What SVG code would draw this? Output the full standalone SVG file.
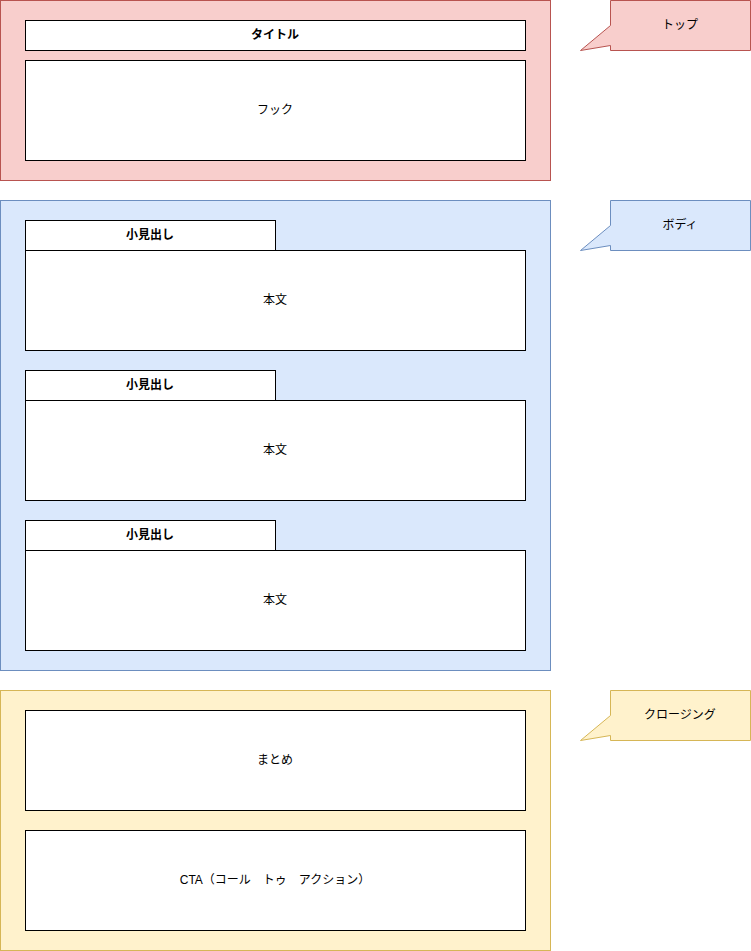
<svg xmlns="http://www.w3.org/2000/svg" width="751" height="951" viewBox="0 0 751 951">
<style>
text{font-family:"Liberation Sans","Noto Sans CJK JP",sans-serif;font-size:12px;fill:#000;text-anchor:middle;dominant-baseline:central}
.b{font-weight:bold}
.w{fill:#fff;stroke:#000;stroke-width:1}
</style>
<rect width="751" height="951" fill="#fff"/>
<g id="top"><rect x="0.5" y="0.5" width="550" height="180" fill="#f8cecc" stroke="#b85450"/></g>
<g id="body"><rect x="0.5" y="200.5" width="550" height="470" fill="#dae8fc" stroke="#6c8ebf"/></g>
<g id="closing"><rect x="0.5" y="690.5" width="550" height="260" fill="#fff2cc" stroke="#d6b656"/></g>
<g id="title"><rect class="w" x="25.5" y="20.5" width="500" height="30"/><text class="b" x="275" y="35">タイトル</text></g>
<g id="hook"><rect class="w" x="25.5" y="60.5" width="500" height="100"/><text x="275" y="110">フック</text></g>
<g id="h1"><rect class="w" x="25.5" y="220.5" width="250" height="30"/><text class="b" x="150" y="235">小見出し</text></g>
<g id="t1"><rect class="w" x="25.5" y="250.5" width="500" height="100"/><text x="275" y="300">本文</text></g>
<g id="h2"><rect class="w" x="25.5" y="370.5" width="250" height="30"/><text class="b" x="150" y="385">小見出し</text></g>
<g id="t2"><rect class="w" x="25.5" y="400.5" width="500" height="100"/><text x="275" y="450">本文</text></g>
<g id="h3"><rect class="w" x="25.5" y="520.5" width="250" height="30"/><text class="b" x="150" y="535">小見出し</text></g>
<g id="t3"><rect class="w" x="25.5" y="550.5" width="500" height="100"/><text x="275" y="600">本文</text></g>
<g id="summary"><rect class="w" x="25.5" y="710.5" width="500" height="100"/><text x="275" y="760">まとめ</text></g>
<g id="cta"><rect class="w" x="25.5" y="830.5" width="500" height="100"/><text x="275" y="880">CTA（コール　トゥ　アクション）</text></g>
<g id="c1"><path d="M610.5 0.5H750.5V50.5H610.5V45.5L580.5 50.5L610.5 25.5Z" fill="#f8cecc" stroke="#b85450"/><text x="680" y="25">トップ</text></g>
<g id="c2"><path d="M610.5 200.5H750.5V250.5H610.5V245.5L580.5 250.5L610.5 225.5Z" fill="#dae8fc" stroke="#6c8ebf"/><text x="680" y="225">ボディ</text></g>
<g id="c3"><path d="M610.5 690.5H750.5V740.5H610.5V735.5L580.5 740.5L610.5 715.5Z" fill="#fff2cc" stroke="#d6b656"/><text x="680" y="715">クロージング</text></g>
<g id="connectors"/>
</svg>
